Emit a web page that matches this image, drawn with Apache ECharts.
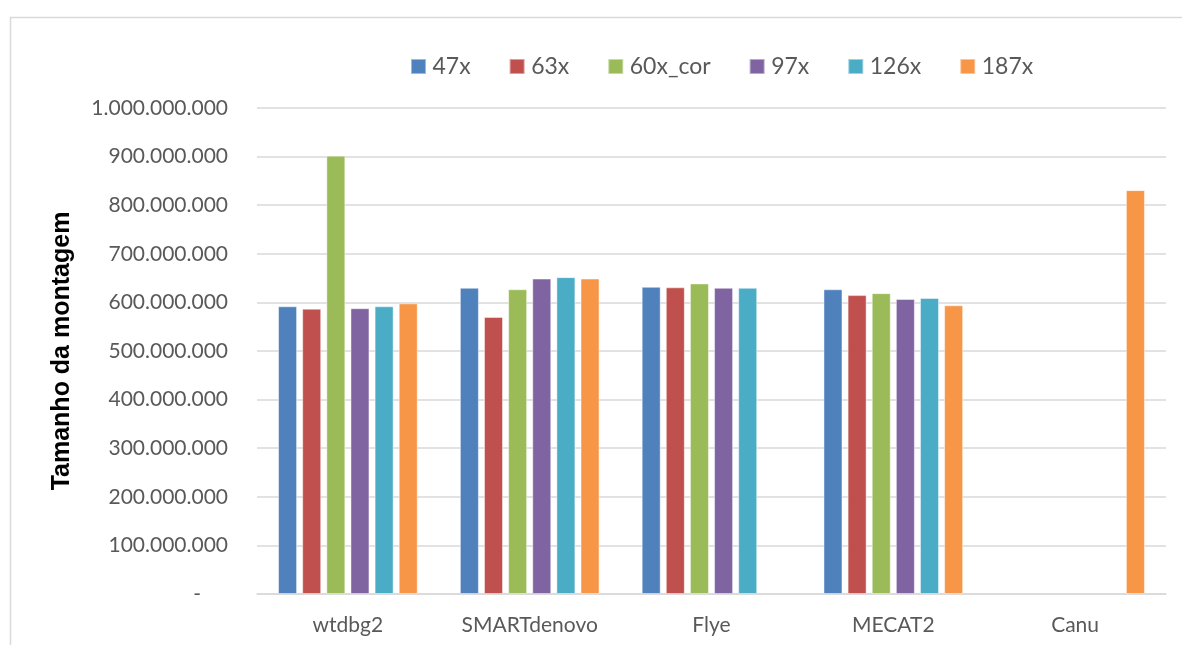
<!DOCTYPE html>
<html>
<head>
<meta charset="utf-8">
<script src="https://cdn.jsdelivr.net/npm/echarts@6/dist/echarts.min.js"></script>
<style>
  html, body { margin: 0; padding: 0; background: #ffffff; }
  #chart { width: 1182px; height: 645px; }
</style>
</head>
<body>
<div id="chart"></div>
<script>
// Assemblers compared
const categories = ['wtdbg2', 'SMARTdenovo', 'Flye', 'MECAT2', 'Canu'];

// Assembly size (bp) per sequencing coverage; null = no assembly
const cov47x   = [592000000, 630000000, 632000000, 627000000, null];
const cov63x   = [587000000, 570000000, 631000000, 615000000, null];
const cov60xCor = [902000000, 627000000, 639000000, 619000000, null];
const cov97x   = [588000000, 649000000, 630000000, 607000000, null];
const cov126x  = [592000000, 652000000, 630000000, 609000000, null];
const cov187x  = [598000000, 649000000, null, 594000000, 831000000];

const seriesNames = ['47x', '63x', '60x_cor', '97x', '126x', '187x'];
const seriesData = [cov47x, cov63x, cov60xCor, cov97x, cov126x, cov187x];
const colors = ['#4F81BD', '#C0504D', '#9BBB59', '#8064A2', '#4BACC6', '#F79646'];

const yTicks = { min: 0, max: 1000000000, interval: 100000000 };

function fmtThousands(v) {
  if (v === 0) return '-     ';
  return String(v).replace(/\B(?=(\d{3})+(?!\d))/g, '.');
}

const chart = echarts.init(document.getElementById('chart'), null, { renderer: 'canvas' });

const series = seriesNames.map((name, i) => ({
  name: name,
  type: 'bar',
  data: seriesData[i],
  barWidth: 19,
  barGap: '27%',
  itemStyle: {
    color: colors[i],
    borderColor: 'rgba(255,255,255,0.45)',
    borderWidth: 1
  }
}));

chart.setOption({
  animation: false,
  backgroundColor: '#ffffff',
  color: colors,
  graphic: [{
    type: 'rect',
    left: 8, top: 15,
    shape: { width: 1200, height: 700 },
    style: { fill: 'none', stroke: '#d9d9d9', lineWidth: 1.5 },
    silent: true
  }],
  legend: {
    data: seriesNames,
    left: 405,
    top: 50,
    itemWidth: 15,
    itemHeight: 15,
    itemGap: 38,
    icon: 'rect',
    textStyle: { fontFamily: 'Lato', fontSize: 23, color: '#595959', padding: [0, 0, 0, 1.5] }
  },
  grid: { left: 257, right: 16, top: 108, bottom: 51, containLabel: false },
  xAxis: {
    type: 'category',
    data: categories,
    axisLine: { show: true, lineStyle: { color: '#d9d9d9', width: 1.5 } },
    axisTick: { show: false },
    axisLabel: { fontFamily: 'Lato', fontSize: 21, color: '#595959', margin: 21 }
  },
  yAxis: {
    type: 'value',
    min: yTicks.min,
    max: yTicks.max,
    interval: yTicks.interval,
    name: 'Tamanho da montagem',
    nameLocation: 'middle',
    nameGap: 182,
    nameTextStyle: { fontFamily: 'Liberation Sans', fontWeight: 'bold', fontSize: 25, color: '#000000' },
    axisLine: { show: false },
    axisTick: { show: false },
    splitLine: { lineStyle: { color: '#d9d9d9', width: 1.5 } },
    axisLabel: {
      fontFamily: 'Lato', fontSize: 21, color: '#595959', margin: 29,
      formatter: fmtThousands
    }
  },
  series: series
});
</script>
</body>
</html>
